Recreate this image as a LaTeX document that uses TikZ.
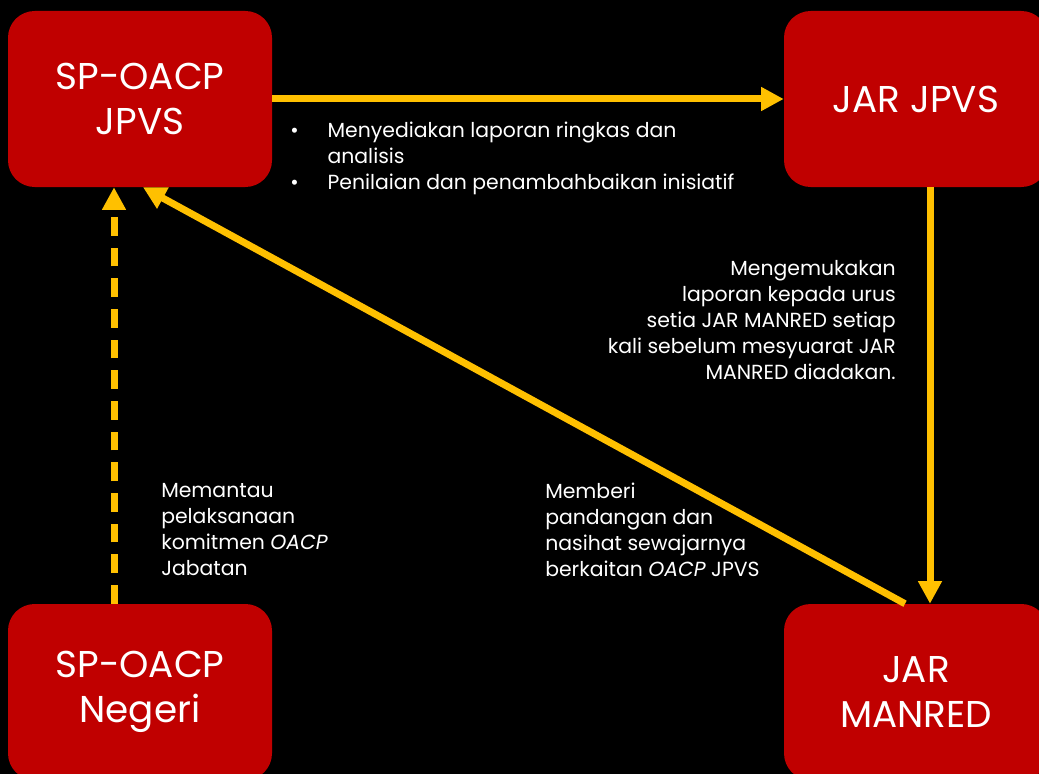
\documentclass[tikz,border=0pt]{standalone}
\usepackage{fontspec}
\setmainfont{Poppins}
\usetikzlibrary{arrows.meta}

\definecolor{boxred}{HTML}{C00000}
\definecolor{flowgold}{HTML}{FFC000}

\tikzset{
  unitbox/.style={fill=boxred, rounded corners=20pt, minimum width=198pt,
    minimum height=132pt, text=white, align=center,
    font=\fontsize{28}{34}\selectfont},
  flow/.style={draw=flowgold, line width=5.25pt,
    -{Triangle[length=17pt,width=17pt]}},
  note/.style={text=white, inner sep=0pt, font=\fontsize{15.3}{19.5}\selectfont},
}

\begin{document}
\begin{tikzpicture}[x=0.75pt, y=-0.75pt]
                \fill[black] (0,0) rectangle (1039,774);
                \useasboundingbox (0,0) rectangle (1039,774);
                \clip (0,0) rectangle (1039,774);
                % the four units
                \node[unitbox] (spjpvs) at (140,99) {SP-OACP\\JPVS};
                \node[unitbox] (jarjpvs) at (916,99) {JAR JPVS};
                \node[unitbox] (spnegeri) at (140,692) {SP-OACP\\Negeri};
                \node[unitbox] (manred) at (916,692) {JAR\\MANRED};
                % connectors
                \draw[flow] (spjpvs.east) -- (jarjpvs.west);
                \draw[flow] ([xshift=10.5pt]jarjpvs.south) -- ([xshift=10.5pt]manred.north);
                \draw[flow, dash pattern=on 14pt off 9pt] ([xshift=-19.5pt]spnegeri.north) -- ([xshift=-19.5pt]spjpvs.south);
                \draw[flow] ([xshift=-8.25pt]manred.north) -- ([xshift=2.25pt]spjpvs.south);
                % labels
                \node[note, anchor=north west, align=left] (ringkas) at (290,122)
                  {\makebox[28pt][l]{•}Menyediakan laporan ringkas dan\\
                   \hspace*{28pt}analisis\\
                   \makebox[28pt][l]{•}Penilaian dan penambahbaikan inisiatif};
                \node[note, anchor=north east, align=right] (laporan) at (896,260)
                  {Mengemukakan\\laporan kepada urus\\setia JAR MANRED setiap\\kali sebelum mesyuarat JAR\\MANRED diadakan.};
                \node[note, anchor=north west, align=left] (memantau) at (161,483)
                  {Memantau\\pelaksanaan\\komitmen \textit{OACP}\\Jabatan};
                \node[note, anchor=north west, align=left] (memberi) at (545,483)
                  {Memberi\\pandangan dan\\nasihat sewajarnya\\berkaitan \textit{OACP} JPVS};
\end{tikzpicture}
\end{document}
